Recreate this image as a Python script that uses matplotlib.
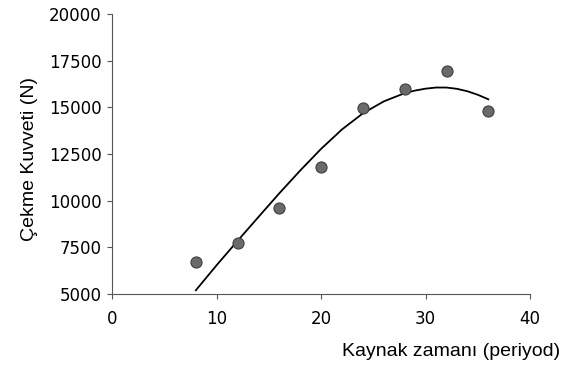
import matplotlib
matplotlib.use("agg")
from matplotlib import pyplot

pyplot.rcParams["font.family"] = ["Liberation Sans", "DejaVu Sans"]

# Welding time (periods) vs. tensile force (N), measured points
weld_time = [8, 12, 16, 20, 24, 28, 32, 36]
pull_force = [6720, 7720, 9610, 11810, 14960, 15980, 16950, 14790]

# trendline
trend_time = [8, 10, 12, 14, 16, 18, 20, 22, 24, 26, 28, 29, 30, 31, 32,
              33, 34, 35, 36]
trend_force = [5200, 6550, 7850, 9130, 10400, 11620, 12780, 13820, 14680,
               15320, 15760, 15900, 16000, 16060, 16060, 15990, 15860,
               15670, 15430]

x_ticks = [0, 10, 20, 30, 40]
y_ticks = [5000, 7500, 10000, 12500, 15000, 17500, 20000]


def plot_figure():
    fig = pyplot.figure(figsize=(5.7, 3.72), dpi=100)
    ax = fig.add_axes([0.197, 0.2097, 0.733, 0.7527])

    ax.plot(trend_time, trend_force, c="k", lw=1.3, zorder=2,
            solid_joinstyle="round")
    ax.plot(weld_time, pull_force, ls="", marker="o", ms=8,
            mfc="#6a6a6a", mec="#404040", mew=0.8, zorder=3)

    ax.set_xlim(0, 40)
    ax.set_ylim(5000, 20000)
    ax.set_xticks(x_ticks)
    ax.set_yticks(y_ticks)
    for side in ("top", "right"):
        ax.spines[side].set_visible(False)
    for side in ("left", "bottom"):
        ax.spines[side].set_linewidth(0.8)
        ax.spines[side].set_color("#555555")
    ax.tick_params(direction="out", length=3.5, width=0.8, color="#555555")
    ax.tick_params(axis="y", pad=4)
    ax.tick_params(axis="x", pad=8)
    for lab in ax.get_xticklabels() + ax.get_yticklabels():
        lab.set_family("DejaVu Sans")
        lab.set_fontsize(12)

    ax.set_ylabel("Çekme Kuvveti (N)", fontsize=14)
    ax.yaxis.set_label_coords(-0.199, 0.482)
    ax.yaxis.label.set_verticalalignment("center")
    ax.set_xlabel("Kaynak zamanı (periyod)", fontsize=14)
    ax.xaxis.set_label_coords(1.072, -0.2214)
    ax.xaxis.label.set_horizontalalignment("right")
    ax.xaxis.label.set_verticalalignment("baseline")

    fig.savefig("out.png", dpi=100)


if __name__ == "__main__":
    plot_figure()
